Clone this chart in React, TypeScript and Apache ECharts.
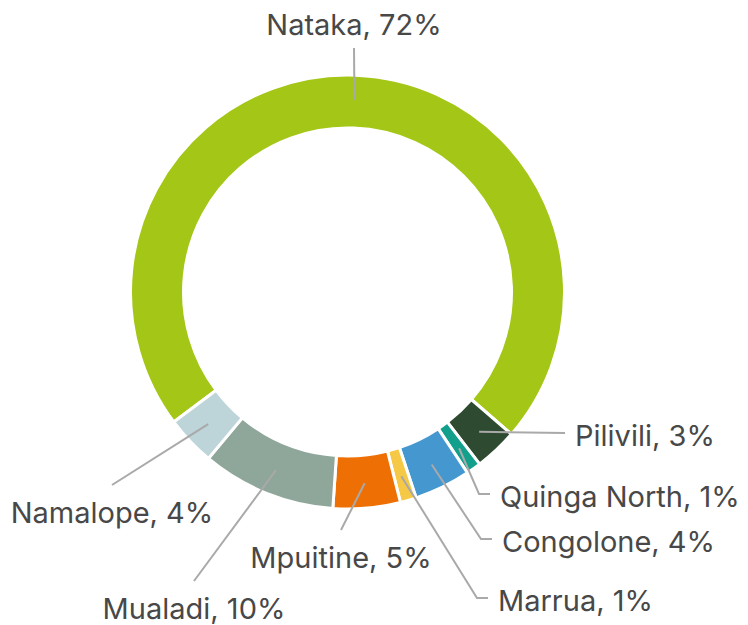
import React, { useEffect, useRef } from "react";
import * as echarts from "echarts";

const names = ["Nataka", "Pilivili", "Quinga North", "Congolone", "Marrua", "Mpuitine", "Mualadi", "Namalope"];
const shares = [71.6, 3.2, 1.1, 4.2, 1.2, 5.0, 10.0, 3.7];
const colors = ["#a4c616", "#2e4b32", "#12a08c", "#4597d0", "#f5c945", "#ee7005", "#8fa69a", "#bdd4d9"];

// label placement (layout only)
const LABEL_PLACE: { x: number; y: number; align: string; side: string; bend?: number }[] = [
  { x: 354, y: 24, align: "center", side: "bottom" },
  { x: 575, y: 435, align: "left", side: "left", bend: 0 },
  { x: 500, y: 496, align: "left", side: "left", bend: 11 },
  { x: 502, y: 541, align: "left", side: "left", bend: 11 },
  { x: 498, y: 600, align: "left", side: "left", bend: 11 },
  { x: 341, y: 557, align: "center", side: "top" },
  { x: 194, y: 608, align: "center", side: "top" },
  { x: 112, y: 512, align: "center", side: "top" },
];

const CENTER = [347.5, 292];

export default function App() {
  const ref = useRef<HTMLDivElement>(null);
  useEffect(() => {
    if (!ref.current) return;
    const chart = echarts.init(ref.current, null, { renderer: "svg" });
    const data = names.map((n, i) => ({ name: n, value: shares[i], itemStyle: { color: colors[i] } }));
    chart.setOption({
      animation: false,
      backgroundColor: "#ffffff",
      series: [
        {
          type: "pie",
          z: 2,
          center: CENTER,
          radius: [164, 217],
          startAngle: 216.8,
          clockwise: true,
          silent: true,
          avoidLabelOverlap: false,
          label: { show: false },
          labelLine: { show: false },
          itemStyle: { borderColor: "#ffffff", borderWidth: 3 },
          data,
        },
        {
          type: "pie",
          z: 3,
          center: CENTER,
          radius: [0, 192],
          startAngle: 216.8,
          clockwise: true,
          silent: true,
          avoidLabelOverlap: false,
          itemStyle: { color: "rgba(0,0,0,0)" },
          label: {
            show: true,
            position: "outside",
            overflow: "none",
            fontFamily: "Inter",
            fontSize: 29,
            color: "#484848",
            formatter: (p: any) => `${p.name}, ${Math.round(p.value)}%`,
          },
          labelLine: {
            show: true,
            length: 5,
            length2: 5,
            lineStyle: { color: "#a9a9a9", width: 2 },
          },
          labelLayout: (params: any) => {
            const pl = LABEL_PLACE[params.dataIndex];
            const start = params.labelLinePoints ? params.labelLinePoints[0] : [pl.x, pl.y];
            let end: number[];
            let mid: number[];
            if (pl.side === "bottom") {
              end = [pl.x, pl.y + 24];
              mid = end;
            } else if (pl.side === "top") {
              end = [pl.x, pl.y - 27];
              mid = end;
            } else {
              end = [pl.x - 10, pl.y - 2];
              mid = [end[0] - (pl.bend || 0), end[1]];
            }
            return {
              x: pl.x,
              y: pl.y,
              align: pl.align,
              verticalAlign: "middle",
              labelLinePoints: [start, mid, end],
            };
          },
          data: names.map((n, i) => ({ name: n, value: shares[i] })),
        },
      ],
    });
    return () => chart.dispose();
  }, []);
  return <div ref={ref} style={{ position: "absolute", left: 0, top: 0, width: 748, height: 625 }} />;
}
